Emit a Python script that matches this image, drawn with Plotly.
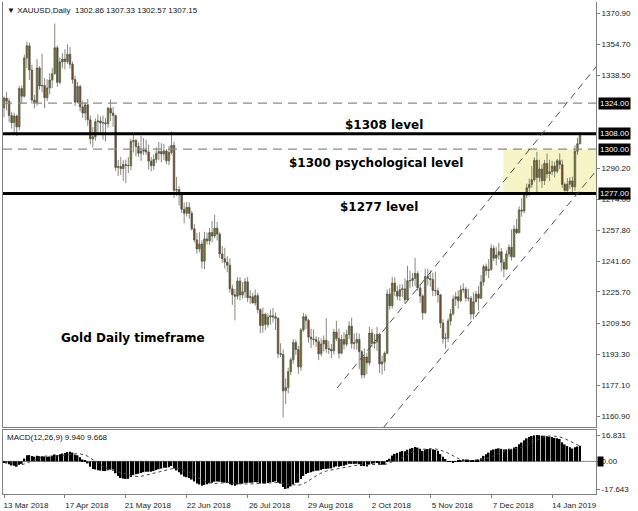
import pandas as pd
import plotly.graph_objects as go
from plotly.subplots import make_subplots

# ---------------- data ----------------
holidays = ["2018-03-30", "2018-12-25", "2019-01-01"]
dates = [d.strftime("%Y-%m-%d") for d in pd.bdate_range("2018-03-13", "2019-01-29")
         if d.strftime("%Y-%m-%d") not in holidays]

open_ = [1321.5, 1326.6, 1325.0, 1317.6, 1313.8, 1317.3, 1311.6, 1331.6, 1327.6, 1347.5, 1353.8, 1341.2, 1325.6, 1324.3, 1342.3, 1332.9, 1333.2, 1326.8, 1331.9, 1336.0,
         1339.3, 1352.8, 1334.8, 1345.4, 1346.9, 1345.6, 1349.4, 1344.2, 1336.3, 1324.5, 1332.6, 1322.0, 1318.8, 1323.1, 1315.3, 1305.4, 1306.5, 1314.3, 1314.7, 1313.7,
         1313.8, 1313.2, 1321.3, 1318.8, 1317.5, 1290.5, 1291.0, 1289.9, 1292.1, 1291.6, 1291.4, 1304.0, 1304.5, 1301.4, 1297.9, 1299.0, 1299.4, 1298.5, 1293.8, 1291.4,
         1294.7, 1297.9, 1298.8, 1297.5, 1299.1, 1294.0, 1298.3, 1302.0, 1278.6, 1279.0, 1276.1, 1268.7, 1266.6, 1269.8, 1266.6, 1258.6, 1252.8, 1248.1, 1250.6, 1241.7,
         1253.3, 1252.3, 1256.6, 1254.8, 1258.9, 1255.8, 1245.5, 1243.0, 1241.2, 1239.6, 1227.3, 1224.2, 1223.5, 1231.4, 1224.1, 1225.8, 1231.0, 1222.7, 1223.2, 1220.0,
         1223.8, 1216.5, 1208.2, 1214.1, 1208.7, 1212.6, 1213.3, 1212.8, 1212.0, 1193.6, 1193.2, 1174.2, 1175.9, 1184.2, 1190.4, 1199.4, 1195.7, 1186.7, 1205.9, 1212.8,
         1210.9, 1202.2, 1201.2, 1200.9, 1199.9, 1193.5, 1198.6, 1200.5, 1196.1, 1195.9, 1195.0, 1204.8, 1201.4, 1193.8, 1201.0, 1198.5, 1203.6, 1207.9, 1198.8, 1199.2,
         1201.0, 1194.6, 1182.5, 1191.8, 1188.8, 1204.3, 1198.9, 1199.6, 1203.7, 1188.2, 1189.3, 1193.8, 1224.6, 1218.5, 1230.3, 1226.0, 1223.5, 1226.9, 1227.3, 1221.6,
         1231.5, 1231.6, 1232.7, 1235.3, 1227.8, 1223.6, 1214.8, 1233.7, 1232.7, 1232.2, 1226.5, 1226.3, 1224.2, 1209.5, 1201.4, 1201.7, 1210.6, 1214.3, 1222.0, 1223.2,
         1221.1, 1226.8, 1227.1, 1222.6, 1222.4, 1214.2, 1220.6, 1224.6, 1222.4, 1230.9, 1238.9, 1236.8, 1237.5, 1248.4, 1243.3, 1244.9, 1246.6, 1241.1, 1237.6, 1245.5,
         1249.0, 1244.0, 1258.4, 1256.5, 1268.4, 1267.8, 1276.0, 1279.9, 1281.6, 1284.1, 1294.2, 1285.3, 1289.7, 1283.6, 1292.6, 1287.2, 1288.3, 1291.2, 1288.5, 1294.0,
         1292.0, 1281.6, 1278.5, 1281.8, 1283.5, 1280.4, 1299.0, 1302.86]
high = [1327.5, 1329.9, 1326.5, 1319.5, 1319.0, 1318.0, 1333.0, 1333.2, 1349.2, 1356.0, 1355.4, 1344.0, 1328.3, 1346.9, 1343.2, 1349.7, 1337.0, 1336.4, 1339.5, 1342.2,
        1365.4, 1354.0, 1347.7, 1350.0, 1352.0, 1354.7, 1353.2, 1345.6, 1338.3, 1335.0, 1333.5, 1325.3, 1324.5, 1326.1, 1317.5, 1311.5, 1316.0, 1318.2, 1317.1, 1317.5,
        1316.2, 1322.2, 1325.9, 1322.0, 1318.0, 1294.5, 1295.9, 1294.2, 1294.6, 1295.9, 1305.5, 1307.4, 1305.5, 1303.5, 1307.1, 1305.8, 1305.0, 1302.5, 1296.0, 1297.2,
        1301.0, 1303.8, 1303.1, 1302.8, 1300.0, 1301.7, 1309.1, 1304.0, 1285.5, 1280.8, 1277.7, 1272.2, 1272.6, 1272.4, 1267.9, 1261.0, 1256.5, 1256.8, 1252.6, 1257.0,
        1256.6, 1259.0, 1262.6, 1265.9, 1262.1, 1256.8, 1249.6, 1248.7, 1244.2, 1243.2, 1229.4, 1227.2, 1233.5, 1233.4, 1230.9, 1233.0, 1233.5, 1226.6, 1225.2, 1227.0,
        1225.3, 1217.2, 1217.6, 1214.9, 1214.5, 1216.5, 1217.4, 1214.9, 1212.4, 1199.0, 1195.8, 1180.7, 1186.3, 1191.6, 1201.1, 1200.9, 1197.6, 1207.0, 1214.8, 1214.2,
        1211.7, 1206.6, 1206.3, 1202.7, 1202.2, 1201.5, 1203.0, 1212.0, 1200.2, 1198.6, 1206.4, 1210.6, 1206.6, 1203.3, 1204.8, 1206.1, 1210.4, 1212.3, 1204.1, 1204.6,
        1204.0, 1195.5, 1196.4, 1194.0, 1207.6, 1206.5, 1203.8, 1207.5, 1204.4, 1192.6, 1194.7, 1227.0, 1227.6, 1233.6, 1233.3, 1229.0, 1229.7, 1229.7, 1232.8, 1239.3,
        1236.8, 1235.6, 1243.4, 1236.5, 1229.9, 1224.5, 1237.8, 1237.8, 1237.0, 1235.7, 1236.3, 1228.0, 1224.6, 1211.5, 1204.3, 1212.0, 1216.8, 1224.0, 1225.7, 1226.5,
        1229.1, 1230.2, 1228.2, 1227.4, 1223.5, 1225.5, 1226.3, 1228.7, 1234.5, 1240.0, 1240.5, 1242.8, 1250.5, 1250.0, 1249.0, 1251.3, 1248.5, 1242.7, 1247.3, 1250.5,
        1258.3, 1260.5, 1263.7, 1270.3, 1274.5, 1277.3, 1282.0, 1284.7, 1291.2, 1295.7, 1298.6, 1294.5, 1292.2, 1294.4, 1297.7, 1294.5, 1294.0, 1293.5, 1295.0, 1297.8,
        1294.6, 1282.7, 1285.0, 1285.5, 1285.7, 1302.0, 1305.9, 1307.33]
low = [1316.6, 1320.3, 1314.0, 1310.7, 1307.5, 1306.9, 1309.8, 1323.6, 1326.9, 1342.2, 1336.0, 1323.6, 1321.2, 1322.5, 1331.0, 1329.6, 1321.4, 1325.0, 1328.6, 1331.8,
       1338.8, 1332.4, 1333.8, 1342.3, 1341.5, 1344.5, 1341.9, 1334.1, 1322.5, 1323.9, 1319.7, 1316.4, 1315.0, 1312.2, 1302.5, 1300.9, 1304.4, 1308.6, 1307.8, 1305.0,
       1304.0, 1311.2, 1314.7, 1311.6, 1288.7, 1286.0, 1286.6, 1283.5, 1282.3, 1287.6, 1289.1, 1298.3, 1296.3, 1296.0, 1293.9, 1297.0, 1297.1, 1289.3, 1288.5, 1289.2,
       1292.8, 1294.2, 1293.2, 1294.5, 1292.2, 1291.6, 1297.1, 1274.6, 1275.6, 1270.6, 1266.8, 1261.4, 1264.9, 1263.8, 1257.6, 1251.4, 1245.6, 1246.3, 1237.8, 1237.5,
       1250.4, 1250.1, 1251.5, 1253.6, 1252.5, 1243.4, 1240.8, 1237.9, 1235.9, 1225.3, 1219.0, 1210.9, 1221.8, 1221.3, 1222.2, 1222.6, 1220.5, 1219.5, 1219.6, 1218.5,
       1214.6, 1204.2, 1204.5, 1205.8, 1207.1, 1208.6, 1209.8, 1205.9, 1191.2, 1191.7, 1160.4, 1167.3, 1172.9, 1182.5, 1188.4, 1192.9, 1183.1, 1184.6, 1205.0, 1206.4,
       1199.3, 1196.5, 1198.0, 1197.0, 1190.2, 1192.2, 1194.7, 1194.0, 1193.4, 1191.1, 1193.1, 1200.1, 1191.0, 1193.3, 1195.8, 1197.3, 1201.2, 1196.3, 1195.6, 1195.6,
       1185.5, 1180.6, 1180.8, 1183.0, 1187.4, 1196.9, 1196.2, 1194.9, 1183.5, 1182.7, 1184.6, 1193.2, 1216.5, 1217.0, 1223.5, 1221.5, 1221.0, 1223.0, 1219.6, 1221.3,
       1227.6, 1228.4, 1228.6, 1226.3, 1220.0, 1211.2, 1214.4, 1229.1, 1228.4, 1223.5, 1223.6, 1220.1, 1206.9, 1198.8, 1196.2, 1199.5, 1208.2, 1213.4, 1218.4, 1216.9,
       1220.3, 1225.3, 1220.6, 1220.8, 1211.4, 1211.5, 1220.3, 1216.1, 1222.3, 1228.9, 1234.2, 1232.9, 1236.6, 1241.7, 1239.6, 1242.6, 1236.4, 1233.3, 1237.0, 1244.0,
       1242.0, 1243.5, 1255.8, 1256.3, 1264.9, 1266.6, 1274.4, 1275.5, 1280.0, 1283.1, 1276.9, 1283.0, 1279.9, 1281.4, 1284.9, 1283.4, 1286.5, 1285.3, 1287.5, 1289.6,
       1279.9, 1277.9, 1277.8, 1279.4, 1276.2, 1278.3, 1297.0, 1302.57]
close = [1326.6, 1325.0, 1317.6, 1313.8, 1317.3, 1311.6, 1331.6, 1327.6, 1347.5, 1353.8, 1341.2, 1325.6, 1324.3, 1342.3, 1332.9, 1333.2, 1326.8, 1331.9, 1336.0, 1339.3,
         1352.8, 1334.8, 1345.4, 1346.9, 1345.6, 1349.4, 1344.2, 1336.3, 1324.5, 1332.6, 1322.0, 1318.8, 1323.1, 1315.3, 1305.4, 1306.5, 1314.3, 1314.7, 1313.7, 1313.8,
         1313.2, 1321.3, 1318.8, 1317.5, 1290.5, 1291.0, 1289.9, 1292.1, 1291.6, 1291.4, 1304.0, 1304.5, 1301.4, 1297.9, 1299.0, 1299.4, 1298.5, 1293.8, 1291.4, 1294.7,
         1297.9, 1298.8, 1297.5, 1299.1, 1294.0, 1298.3, 1302.0, 1278.6, 1279.0, 1276.1, 1268.7, 1266.6, 1269.8, 1266.6, 1258.6, 1252.8, 1248.1, 1250.6, 1241.7, 1253.3,
         1252.3, 1256.6, 1254.8, 1258.9, 1255.8, 1245.5, 1243.0, 1241.2, 1239.6, 1227.3, 1224.2, 1223.5, 1231.4, 1224.1, 1225.8, 1231.0, 1222.7, 1223.2, 1220.0, 1223.8,
         1216.5, 1208.2, 1214.1, 1208.7, 1212.6, 1213.3, 1212.8, 1212.0, 1193.6, 1193.2, 1174.2, 1175.9, 1184.2, 1190.4, 1199.4, 1195.7, 1186.7, 1205.9, 1212.8, 1210.9,
         1202.2, 1201.2, 1200.9, 1199.9, 1193.5, 1198.6, 1200.5, 1196.1, 1195.9, 1195.0, 1204.8, 1201.4, 1193.8, 1201.0, 1198.5, 1203.6, 1207.9, 1198.8, 1199.2, 1201.0,
         1194.6, 1182.5, 1191.8, 1188.8, 1204.3, 1198.9, 1199.6, 1203.7, 1188.2, 1189.3, 1193.8, 1224.6, 1218.5, 1230.3, 1226.0, 1223.5, 1226.9, 1227.3, 1221.6, 1231.5,
         1231.6, 1232.7, 1235.3, 1227.8, 1223.6, 1214.8, 1233.7, 1232.7, 1232.2, 1226.5, 1226.3, 1224.2, 1209.5, 1201.4, 1201.7, 1210.6, 1214.3, 1222.0, 1223.2, 1221.1,
         1226.8, 1227.1, 1222.6, 1222.4, 1214.2, 1220.6, 1224.6, 1222.4, 1230.9, 1238.9, 1236.8, 1237.5, 1248.4, 1243.3, 1244.9, 1246.6, 1241.1, 1237.6, 1245.5, 1249.0,
         1244.0, 1258.4, 1256.5, 1268.4, 1267.8, 1276.0, 1279.9, 1281.6, 1284.1, 1294.2, 1285.3, 1289.7, 1283.6, 1292.6, 1287.2, 1288.3, 1291.2, 1288.5, 1294.0, 1292.0,
         1281.6, 1278.5, 1281.8, 1283.5, 1280.4, 1299.0, 1302.86, 1307.15]

macd = [-1.0, -1.3, -1.9, -2.6, -2.8, -3.4, -2.2, -1.6, 1.8, 3.9, 4.0, 3.4, 3.0, 3.6, 3.3, 3.2, 3.1, 3.0, 3.1, 3.4,
        4.4, 4.0, 4.5, 5.0, 5.3, 5.9, 6.2, 5.6, 4.2, 3.9, 2.6, 1.2, 0.6, -1.3, -3.4, -4.8, -5.2, -5.6, -5.9, -6.1,
        -6.2, -5.6, -5.3, -5.2, -7.6, -9.3, -10.6, -11.0, -11.2, -11.1, -9.9, -8.8, -8.2, -7.9, -7.4, -6.9, -6.6, -6.6, -6.6, -6.2,
        -5.6, -5.0, -4.6, -4.1, -4.1, -3.7, -3.0, -4.6, -5.8, -6.9, -8.4, -9.6, -10.1, -10.6, -11.6, -12.8, -14.1, -14.7, -15.5, -15.0,
        -14.6, -14.0, -13.6, -13.0, -12.8, -13.0, -13.3, -13.6, -13.8, -14.6, -15.2, -15.5, -14.8, -14.6, -14.3, -13.7, -13.7, -13.6, -13.6, -13.2,
        -13.4, -14.1, -14.0, -14.1, -13.8, -13.4, -13.1, -12.8, -13.6, -14.2, -16.4, -17.6, -17.2, -16.0, -14.6, -13.6, -13.5, -11.3, -9.3, -8.0,
        -7.4, -6.9, -6.4, -6.0, -5.9, -5.4, -4.9, -4.8, -4.6, -4.5, -3.7, -3.2, -3.5, -3.0, -2.8, -2.2, -1.5, -1.6, -1.6, -1.5,
        -1.8, -3.0, -3.0, -3.2, -2.0, -1.6, -1.3, -0.8, -1.6, -2.1, -2.1, 0.3, 1.7, 3.7, 4.8, 5.4, 6.1, 6.6, 6.5, 7.4,
        8.0, 8.5, 9.1, 8.8, 8.1, 6.7, 7.5, 7.9, 8.1, 7.7, 7.3, 6.7, 4.6, 3.0, 1.5, 0.2, -0.4, -0.5, -0.2, 0.3,
        0.9, 1.3, 1.2, 1.1, 0.5, 0.6, 1.1, 1.2, 2.0, 3.5, 4.6, 5.6, 7.0, 7.6, 8.0, 8.3, 8.0, 7.5, 7.7, 8.1,
        7.8, 8.8, 9.3, 10.9, 12.0, 13.4, 14.7, 15.6, 16.2, 16.6, 16.8, 16.7, 16.3, 16.4, 16.0, 15.7, 15.5, 15.0, 14.8, 14.3,
        12.2, 10.8, 9.8, 9.0, 8.2, 9.0, 9.5, 9.94]
signal = [-0.3, -0.5, -0.8, -1.1, -1.4, -1.8, -2.0, -2.1, -1.67, -1.12, -0.53, 0.06, 0.68, 1.39, 2.13, 2.73, 3.26, 3.39, 3.30, 3.23,
          3.34, 3.46, 3.56, 3.74, 3.98, 4.29, 4.64, 4.92, 5.01, 4.96, 4.80, 4.43, 3.94, 3.21, 2.18, 0.96, -0.24, -1.33, -2.42, -3.39,
          -4.21, -4.90, -5.34, -5.54, -5.86, -6.31, -6.87, -7.43, -8.00, -8.54, -9.02, -9.41, -9.74, -9.78, -9.57, -9.16, -8.67, -8.16, -7.66, -7.24,
          -6.89, -6.53, -6.17, -5.80, -5.49, -5.17, -4.77, -4.54, -4.50, -4.64, -5.02, -5.58, -6.24, -6.97, -7.84, -8.93, -9.99, -10.98, -11.93, -12.67,
          -13.22, -13.66, -13.99, -14.14, -14.14, -14.02, -13.87, -13.66, -13.52, -13.52, -13.66, -13.87, -14.07, -14.27, -14.41, -14.46, -14.47, -14.44, -14.33, -14.11,
          -13.88, -13.80, -13.73, -13.71, -13.72, -13.69, -13.63, -13.54, -13.59, -13.68, -13.93, -14.33, -14.68, -14.92, -15.06, -15.11, -15.19, -14.93, -14.39, -13.46,
          -12.32, -11.18, -10.11, -9.16, -8.30, -7.40, -6.69, -6.19, -5.81, -5.49, -5.13, -4.78, -4.50, -4.18, -3.89, -3.59, -3.22, -2.89, -2.57, -2.32,
          -2.17, -2.11, -2.11, -2.16, -2.13, -2.14, -2.11, -2.02, -2.03, -2.07, -1.97, -1.60, -1.06, -0.42, 0.29, 1.03, 1.80, 2.71, 3.67, 4.72,
          5.58, 6.33, 6.93, 7.38, 7.68, 7.74, 7.84, 8.00, 8.08, 8.04, 7.91, 7.64, 7.18, 6.61, 6.03, 5.22, 4.30, 3.34, 2.47, 1.69,
          1.04, 0.68, 0.48, 0.43, 0.47, 0.58, 0.76, 0.91, 1.10, 1.39, 1.76, 2.24, 2.90, 3.69, 4.51, 5.31, 6.07, 6.68, 7.14, 7.53,
          7.78, 7.98, 8.17, 8.49, 8.90, 9.50, 10.30, 11.18, 12.08, 13.06, 13.94, 14.77, 15.37, 15.86, 16.14, 16.26, 16.24, 16.11, 15.91, 15.63,
          15.13, 14.52, 13.79, 13.01, 12.18, 11.20, 10.40, 9.668]

tick_dates = ["2018-03-13", "2018-04-17", "2018-05-21", "2018-06-22", "2018-07-26",
              "2018-08-29", "2018-10-02", "2018-11-05", "2018-12-07", "2019-01-14"]
tick_text = ["13 Mar 2018", "17 Apr 2018", "21 May 2018", "22 Jun 2018", "26 Jul 2018",
             "29 Aug 2018", "2 Oct 2018", "5 Nov 2018", "7 Dec 2018", "14 Jan 2019"]
price_ticks = [1160.9, 1177.1, 1193.3, 1209.5, 1225.7, 1241.6, 1257.8, 1274.0, 1290.2,
               1338.5, 1354.7, 1370.9]
macd_ticks = [16.831, 0.0, -17.643]
macd_tick_text = ["16.831", "0.00", "-17.643"]

solid_levels = [1308.0, 1277.0]
dashed_levels = [1324.0, 1300.0]
boxed_levels = [1324.0, 1308.0, 1300.0, 1277.0]

# trend channel (bar index, price)
channel_upper = [(131.3, 1175.7), (245.0, 1362.0)]
channel_lower = [(149.4, 1154.9), (245.0, 1307.3)]
zone = dict(x0=196.8, x1=240, y0=1277.0, y1=1300.0)

labels = [
    ("$1308 level", 149.8, 1312.6),
    ("$1300 psychological level", 146.6, 1292.6),
    ("$1277 level", 147.8, 1269.9),
    ("Gold Daily timeframe", 51.0, 1201.7),
]

# ---------------- figure ----------------
W, H = 638, 511
ml, mr, mt, mb = 3, 42, 2, 17
ph = H - mt - mb
main_dom = [(494 - 427) / ph, 1.0]
macd_dom = [0.0, (494 - 430) / ph]

fig = make_subplots(rows=2, cols=1, shared_xaxes=True)

fig.add_trace(go.Candlestick(
    x=dates, open=open_, high=high, low=low, close=close,
    increasing=dict(fillcolor="#697a25", line=dict(color="#55584a", width=0.7)),
    decreasing=dict(fillcolor="#7d4020", line=dict(color="#55584a", width=0.7)),
    whiskerwidth=0, hoverinfo="skip", showlegend=False), row=1, col=1)

fig.add_trace(go.Bar(x=dates, y=macd, marker=dict(color="black", line=dict(width=0)),
                     showlegend=False, hoverinfo="skip"), row=2, col=1)
fig.add_trace(go.Scatter(x=dates, y=signal, mode="lines",
                         line=dict(color="#444444", width=1, dash="dot"),
                         showlegend=False, hoverinfo="skip"), row=2, col=1)

# zone rectangle
fig.add_shape(type="rect", xref="x", yref="y", x0=zone["x0"], x1=zone["x1"],
              y0=zone["y0"], y1=zone["y1"], fillcolor="#f7f4c8", line=dict(width=0),
              layer="below")

for lv in dashed_levels:
    fig.add_shape(type="line", xref="x domain", yref="y", x0=0, x1=1, y0=lv, y1=lv,
                  line=dict(color="#8a8a8a", width=1.3, dash="9px,6px"))
for lv in solid_levels:
    fig.add_shape(type="line", xref="x domain", yref="y", x0=0, x1=1, y0=lv, y1=lv,
                  line=dict(color="black", width=3))

for seg in (channel_upper, channel_lower):
    (x0, y0), (x1, y1) = seg
    fig.add_shape(type="line", xref="x", yref="y", x0=x0, y0=y0, x1=x1, y1=y1,
                  line=dict(color="#505050", width=1, dash="7px,5px"))

fig.add_shape(type="line", xref="x2 domain", yref="y2", x0=0, x1=1, y0=0, y1=0,
              line=dict(color="#8a8a8a", width=1), layer="below")

for text, bx, by in labels:
    fig.add_annotation(x=bx, y=by, xref="x", yref="y", text="<b>" + text + "</b>",
                       showarrow=False, font=dict(family="DejaVu Sans", size=12, color="black"))

for lv in boxed_levels:
    fig.add_annotation(x=1, xref="paper", y=lv, yref="y", text=f"{lv:.2f}",
                       xanchor="left", xshift=2, showarrow=False, bgcolor="black",
                       borderpad=1, font=dict(family="Liberation Sans", size=8, color="white"))

fig.add_annotation(x=1, xref="paper", y=0, yref="y2", text="0", xanchor="left", xshift=1,
                   showarrow=False, bgcolor="black", borderpad=0,
                   font=dict(family="Liberation Sans", size=8, color="black"))

fig.add_annotation(x=0, xref="paper", y=1, yref="paper", xanchor="left", yanchor="top",
                   xshift=2, yshift=-2, showarrow=False,
                   text="\u25bc XAUUSD,Daily  1302.86 1307.33 1302.57 1307.15",
                   font=dict(family="Liberation Sans", size=8, color="#111"))
fig.add_annotation(x=0, xref="x2 domain", y=1, yref="y2 domain", xanchor="left", yanchor="top",
                   xshift=2, yshift=-1, showarrow=False,
                   text=f"MACD(12,26,9) {macd[-1]:.3f} {signal[-1]:.3f}",
                   font=dict(family="Liberation Sans", size=8, color="#111"))

tickfont = dict(family="Liberation Sans", size=8, color="#222")
xr = [-0.4, 233.3]
fig.update_layout(
    width=W, height=H, margin=dict(l=ml, r=mr, t=mt, b=mb),
    paper_bgcolor="white", plot_bgcolor="white", bargap=0.35, boxgap=0.1, showlegend=False,
    xaxis=dict(type="category", range=xr, domain=[0, 1], showticklabels=False, showgrid=False,
               showline=True, linecolor="#808080", linewidth=1, ticks="", rangeslider=dict(visible=False),
               zeroline=False),
    xaxis2=dict(type="category", range=xr, domain=[0, 1], tickmode="array", tickvals=tick_dates,
                ticktext=tick_text, showgrid=False, showline=True, mirror=True, linecolor="#808080",
                ticks="outside", ticklen=3, tickcolor="#808080", tickfont=tickfont,
                ticklabelshift=22, zeroline=False, rangeslider=dict(visible=False)),
    yaxis=dict(domain=main_dom, range=[1155.39, 1376.63], side="right", tickmode="array",
               tickvals=price_ticks, ticktext=[f"{v:.2f}" for v in price_ticks], showgrid=False,
               showline=True, mirror=True, linecolor="#808080", ticks="outside", ticklen=3,
               tickcolor="#808080", tickfont=tickfont, zeroline=False, automargin=False),
    yaxis2=dict(domain=macd_dom, range=[-20.83, 20.02], side="right", tickmode="array",
                tickvals=macd_ticks, ticktext=macd_tick_text, showgrid=False, showline=True,
                mirror=True, linecolor="#808080", ticks="outside", ticklen=3, tickcolor="#808080",
                tickfont=tickfont, zeroline=False, automargin=False),
)
fig.update_xaxes(automargin=False)

fig.write_html("out.html", config={"displayModeBar": False},
               post_script="document.body.style.margin='0px';document.body.style.overflow='hidden';")
